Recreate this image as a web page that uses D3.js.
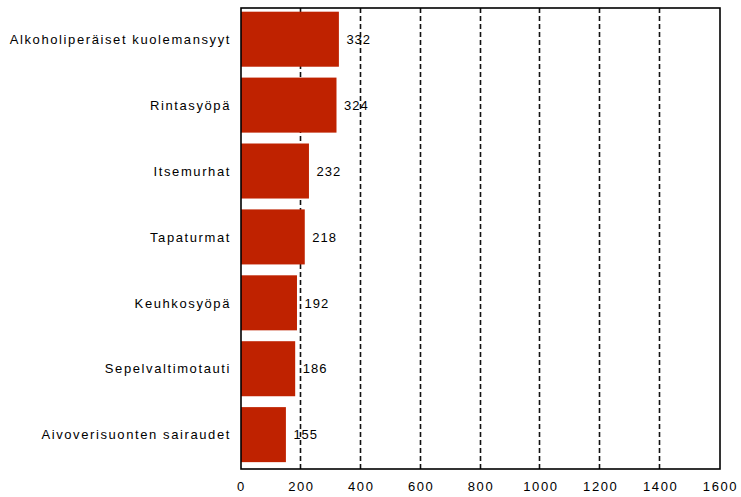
<!DOCTYPE html>
<html>
<head>
<meta charset="utf-8">
<script src="https://cdn.jsdelivr.net/npm/d3@7"></script>
<style>
  body { margin: 0; background: #fff; }
  text { font-family: "Liberation Sans", Arial, sans-serif; font-size: 13px; fill: #000; letter-spacing: 1.6px; }
</style>
</head>
<body>
<svg></svg>
<script>
const categories = [
  'Alkoholiperäiset kuolemansyyt',
  'Rintasyöpä',
  'Itsemurhat',
  'Tapaturmat',
  'Keuhkosyöpä',
  'Sepelvaltimotauti',
  'Aivoverisuonten sairaudet'
]
const values = [332, 324, 232, 218, 192, 186, 155]
const ticks = [0, 200, 400, 600, 800, 1000, 1200, 1400, 1600]

const WIDTH = 741
const HEIGHT = 497
const LEFT = 241
const RIGHT = 720
const TOP = 8
const BOTTOM = 469
const BAR_COLOR = '#bf2200'

const data = categories.map((c, i) => ({name: c, value: values[i]}))

const x = d3.scaleLinear()
  .range([LEFT, RIGHT])
  .domain([0, 1600])
const y = d3.scaleBand()
  .range([TOP, BOTTOM])
  .domain(categories)
  .paddingInner(0.165)
  .paddingOuter(0.08)
  .align(0.35)

const svg = d3.select('svg')
svg.attr('width', WIDTH)
svg.attr('height', HEIGHT)

// dashed gridlines, behind the bars
svg.append('g')
  .attr('class', 'grid')
  .selectAll('line')
  .data(ticks.slice(1, -1))
  .enter().append('line')
    .attr('x1', d => Math.round(x(d)) - 0.5)
    .attr('x2', d => Math.round(x(d)) - 0.5)
    .attr('y1', TOP)
    .attr('y2', BOTTOM)
    .attr('stroke', '#111')
    .attr('stroke-width', 1.6)
    .attr('stroke-dasharray', '5,3')

const bar = svg.selectAll('.bar')
  .data(data)
  .enter().append('g')
    .attr('class', 'bar')

bar.append('rect')
  .attr('x', x(0))
  .attr('y', d => y(d.name))
  .attr('width', d => x(d.value) - x(0) - 1.5)
  .attr('height', y.bandwidth())
  .attr('fill', BAR_COLOR)

bar.append('text')
  .attr('x', d => x(d.value) + 6)
  .attr('y', d => y(d.name) + y.bandwidth() / 2)
  .attr('dy', '0.36em')
  .style('letter-spacing', '1px')
  .text(d => d.value)

// category labels
svg.append('g')
  .selectAll('text')
  .data(categories)
  .enter().append('text')
    .attr('x', 231)
    .attr('y', d => y(d) + y.bandwidth() / 2)
    .attr('dy', '0.36em')
    .attr('text-anchor', 'end')
    .text(d => d)

// frame
svg.append('rect')
  .attr('x', LEFT)
  .attr('y', TOP)
  .attr('width', RIGHT - LEFT)
  .attr('height', BOTTOM - TOP)
  .attr('fill', 'none')
  .attr('stroke', '#000')
  .attr('stroke-width', 1.6)

// bottom axis labels
const axis = svg.append('g')
  .attr('transform', `translate(0, ${BOTTOM})`)
  .call(d3.axisBottom(x).tickValues(ticks).tickSize(0).tickPadding(13).tickFormat(d3.format('d')))
axis.select('.domain').remove()
axis.selectAll('text')
  .attr('font-family', null)
  .attr('font-size', null)
  .attr('fill', '#000')
</script>
</body>
</html>
